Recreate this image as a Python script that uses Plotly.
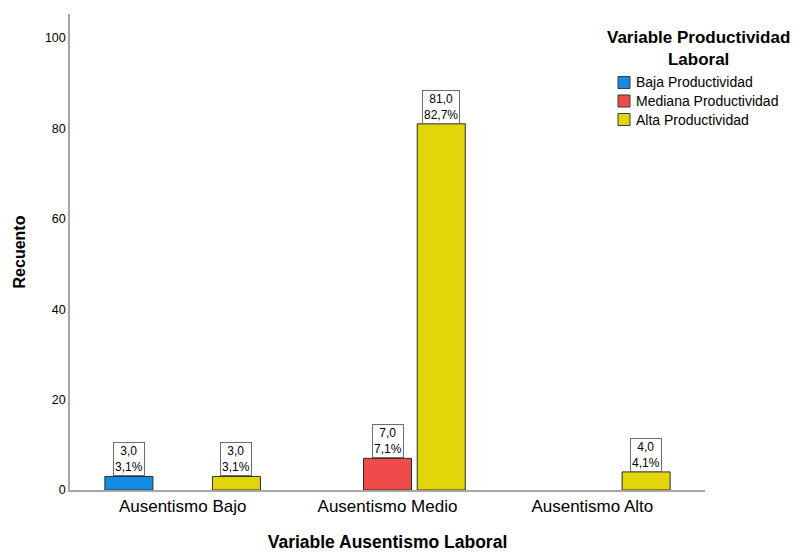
import plotly.graph_objects as go

# Categories and counts per productivity level
categorias = ["Ausentismo Bajo", "Ausentismo Medio", "Ausentismo Alto"]
series = ["Baja Productividad", "Mediana Productividad", "Alta Productividad"]
baja = [3, None, None]
mediana = [None, 7, None]
alta = [3, 81, 4]
colores = ["#138ce6", "#f04b4b", "#e2d60a"]
titulo_leyenda = "Variable Productividad<br>Laboral"

valores = [baja, mediana, alta]
total = sum(v for serie in valores for v in serie if v is not None)

FONT = "Arial, Liberation Sans, sans-serif"
BARGAP = 0.2125
GROUPGAP = 0.107
W, H = 798, 552
M = dict(l=70, r=93, t=14, b=62)
PW = W - M["l"] - M["r"]
PH = H - M["t"] - M["b"]


def px_x(x):
    return (x - M["l"]) / PW


def px_y(y):
    return 1 - (y - M["t"]) / PH


fig = go.Figure()
for nombre, serie, color in zip(series, valores, colores):
    fig.add_trace(go.Bar(
        name=nombre,
        x=categorias,
        y=serie,
        marker=dict(color=color, line=dict(color="#2b2b2b", width=1)),
        showlegend=False,
    ))

# Count / percent boxes sitting on top of each bar
slot = (1 - BARGAP) / len(series)
for s, serie in enumerate(valores):
    for i, v in enumerate(serie):
        if v is None:
            continue
        pct = 100 * v / total
        texto = f"{v:.1f}".replace(".", ",") + "<br>" + f"{pct:.1f}".replace(".", ",") + "%"
        fig.add_annotation(
            x=i + (s - (len(series) - 1) / 2) * slot,
            y=v,
            xref="x", yref="y",
            text=texto,
            showarrow=False,
            yanchor="bottom",
            font=dict(family=FONT, size=12, color="#000000"),
            bgcolor="#ffffff",
            bordercolor="#6e6e6e",
            borderwidth=1,
            borderpad=1,
        )

# Legend: centred two-line title, then swatch + label rows
fig.add_annotation(
    x=px_x(698), y=px_y(48.5), xref="paper", yref="paper",
    text=f"<b>{titulo_leyenda}</b>", showarrow=False,
    align="center", xanchor="center", yanchor="middle",
    font=dict(family=FONT, size=17, color="#000000"),
)
fila_y = [82.5, 101, 119.5]
for nombre, color, yc in zip(series, colores, fila_y):
    fig.add_shape(
        type="rect", xref="paper", yref="paper",
        x0=px_x(618), x1=px_x(630), y0=px_y(yc - 6), y1=px_y(yc + 6),
        fillcolor=color, line=dict(color="#3a3a3a", width=1),
    )
    fig.add_annotation(
        x=px_x(634), y=px_y(yc), xref="paper", yref="paper",
        text=nombre, showarrow=False, xanchor="left", yanchor="middle",
        font=dict(family=FONT, size=14, color="#000000"),
    )

fig.update_layout(
    width=W, height=H,
    margin=M,
    paper_bgcolor="#ffffff",
    plot_bgcolor="#ffffff",
    barmode="group",
    bargap=BARGAP,
    bargroupgap=GROUPGAP,
    font=dict(family=FONT, color="#000000"),
    showlegend=False,
    xaxis=dict(
        type="category",
        range=[-0.55, 2.55],
        showline=True, linecolor="#a6a6a6", linewidth=1.5,
        ticks="", showgrid=False, zeroline=False,
        tickfont=dict(family=FONT, size=17, color="#000000"),
        title=dict(text="<b>Variable Ausentismo Laboral</b>",
                   font=dict(family=FONT, size=17.5, color="#000000"),
                   standoff=22),
        automargin=False,
    ),
    yaxis=dict(
        range=[0, 105.3],
        tickvals=[0, 20, 40, 60, 80, 100],
        showline=True, linecolor="#a6a6a6", linewidth=1.5,
        ticks="", showgrid=False, zeroline=False,
        tickfont=dict(family=FONT, size=12.5, color="#000000"),
        title=dict(text="<b>Recuento</b>",
                   font=dict(family=FONT, size=16, color="#000000"),
                   standoff=15),
        automargin=False,
    ),
)

fig.write_html("out.html")
